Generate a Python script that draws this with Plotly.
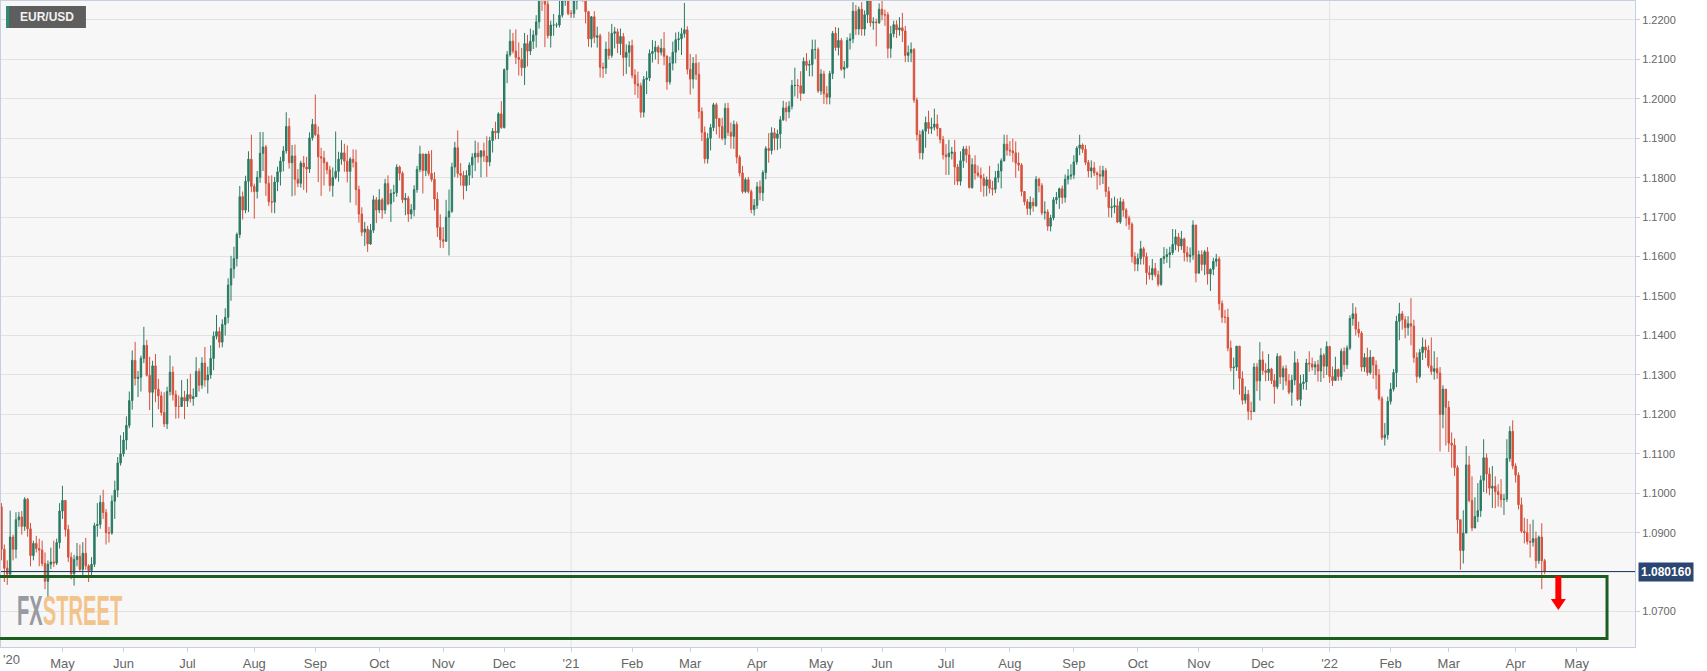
import pandas as pd
import plotly.graph_objects as go

# ---------------- data (EUR/USD daily, values in pips: price * 10000) ----------------
first_day = "2020-04-02"
last_day = "2022-04-15"

opens = [
    10966,10858,10810,10795,10889,10858,10933,10940,10916,10985,10910,10842,10873,10860,10856,10822,10777,10820,10826,10823,10875,
    10955,10982,10908,10838,10796,10832,10840,10807,10848,10816,10804,10820,10918,10921,10977,10951,10900,10899,10980,11008,11077,
    11100,11135,11172,11235,11337,11291,11294,11342,11375,11299,11256,11323,11264,11247,11205,11176,11258,11307,11250,11220,11220,11243,
    11234,11250,11240,11245,11309,11274,11330,11287,11300,11342,11398,11410,11383,11428,11446,11528,11569,11595,11656,11752,11718,11791,11847,
    11778,11765,11801,11862,11878,11786,11739,11738,11789,11815,11842,11868,11930,11838,11855,11796,11786,11837,11827,11822,11901,
    11935,11909,11853,11850,11838,11820,11780,11801,11816,11847,11863,11842,11816,11847,11839,11770,11708,11662,11670,11632,11667,11744,
    11718,11744,11718,11785,11734,11760,11762,11827,11811,11744,11748,11708,11719,11770,11821,11860,11818,11860,11811,11796,11746,11674,
    11643,11639,11700,11715,11827,11876,11811,11806,11780,11806,11832,11852,11862,11853,11868,11855,11840,11894,11918,11914,11962,
    11927,12074,12112,12146,12121,12105,12100,12079,12140,12121,12146,12162,12195,12264,12256,12240,12160,12187,12187,12187,12212,12248,12300,
    12216,12216,12248,12297,12325,12271,12221,12152,12208,12156,12160,12080,12078,12126,12110,12166,12170,12140,12158,12105,12118,
    12135,12060,12038,12033,11966,12049,12053,12115,12120,12131,12118,12128,12108,12043,12090,12118,12150,12152,12165,12175,
    12075,12050,12090,12062,11968,11915,11848,11900,11927,11985,11950,11930,11900,11976,11915,11905,11935,11852,11812,11765,11795,11765,11719,
    11730,11777,11762,11813,11874,11869,11914,11900,11911,11947,11977,11967,11981,12034,12034,12033,12014,12095,12085,12087,12125,12125,
    12020,12063,12013,12004,12064,12166,12130,12148,12075,12080,12148,12152,12222,12177,12227,12177,12213,12250,12193,12195,12193,
    12227,12213,12213,12128,12165,12188,12175,12180,12172,12110,12117,12125,11997,11909,11863,11918,11940,11925,11928,11936,11925,11897,
    11858,11853,11862,11865,11827,11791,11843,11873,11858,11775,11833,11812,11806,11799,11780,11795,11773,11771,11800,11817,11843,11885,
    11870,11868,11863,11837,11832,11765,11739,11722,11738,11729,11796,11780,11711,11713,11677,11698,11744,11750,11772,11750,11796,11804,
    11807,11840,11875,11883,11872,11839,11817,11825,11812,11808,11804,11818,11765,11724,11726,11729,11688,11739,11718,11698,11682,11600,
    11581,11595,11620,11600,11559,11554,11570,11554,11530,11595,11600,11605,11610,11631,11650,11627,11645,11610,11600,11604,11680,
    11558,11605,11580,11612,11556,11568,11588,11594,11481,11446,11446,11368,11318,11320,11373,11291,11236,11251,11208,11207,11320,11285,
    11338,11311,11306,11315,11286,11270,11347,11295,11316,11285,11256,11287,11331,11238,11278,11282,11330,11328,11320,11326,11310,11350,11322,
    11372,11296,11286,11314,11296,11360,11326,11368,11443,11455,11416,11406,11320,11344,11306,11345,11325,11300,11240,11141,11148,
    11233,11264,11306,11436,11455,11440,11420,11430,11424,11344,11296,11357,11371,11363,11323,11309,11316,11305,11200,11264,
    11218,11127,11122,11065,10933,10855,10899,11072,10982,10912,10941,10956,11033,11090,11049,11013,11018,11004,10997,10984,10985,11088,11157,
    11069,11046,10971,10904,10900,10878,10876,10885,10829,10889,10829,
]

highs = [
    10975,10870,10830,10956,10895,10952,10953,10955,10990,10988,10925,10880,10892,10885,10880,10850,10830,10862,10880,10885,10975,
    11019,10983,10920,10850,10844,10874,10870,10876,10887,10820,10838,10925,10975,10995,11009,10960,10915,10995,11032,11092,11147,
    11155,11195,11258,11362,11384,11310,11349,11422,11389,11346,11336,11353,11290,11258,11256,11270,11349,11322,11261,11248,11287,11260,
    11290,11303,11266,11345,11317,11345,11371,11321,11375,11410,11452,11421,11441,11469,11545,11602,11625,11661,11779,11765,11805,11867,11909,
    11785,11817,11916,11916,11883,11805,11806,11802,11828,11853,11880,11966,11951,11883,11884,11822,11843,11855,11853,11915,11949,
    12011,11930,11876,11868,11841,11830,11826,11917,11866,11895,11886,11882,11852,11872,11871,11780,11725,11688,11678,11683,11755,11751,
    11771,11749,11797,11806,11771,11782,11834,11831,11816,11761,11754,11733,11781,11830,11881,11861,11860,11868,11870,11814,11763,11707,
    11675,11744,11770,11838,11891,11920,11837,11817,11819,11839,11862,11894,11890,11870,11889,11905,11904,11926,11942,11966,11994,
    12077,12121,12176,12167,12176,12143,12129,12167,12162,12178,12174,12212,12273,12274,12260,12250,12198,12215,12193,12249,12276,12310,12310,
    12225,12310,12305,12349,12345,12283,12223,12210,12222,12183,12165,12092,12145,12170,12190,12182,12178,12178,12167,12138,12146,
    12150,12075,12069,12041,12058,12070,12125,12149,12147,12136,12152,12169,12110,12107,12145,12168,12170,12180,12243,12184,
    12114,12106,12113,12093,11978,11930,11913,11936,11990,11990,11951,11952,11989,11990,11940,11945,11942,11857,11830,11800,11802,11770,11746,
    11789,11793,11819,11880,11913,11928,11926,11922,11956,11995,11992,11994,12048,12079,12050,12070,12105,12116,12098,12150,12150,12130,
    12075,12071,12032,12071,12172,12182,12180,12154,12096,12156,12166,12245,12238,12234,12245,12224,12266,12263,12207,12203,12242,
    12254,12226,12220,12185,12198,12199,12207,12218,12185,12135,12143,12129,12003,11920,11923,11955,11970,11952,11975,11960,11926,11906,
    11885,11896,11878,11896,11835,11867,11880,11881,11881,11849,11857,11831,11826,11810,11803,11830,11792,11817,11836,11849,11909,11909,
    11893,11899,11892,11864,11837,11765,11746,11753,11749,11804,11800,11786,11740,11720,11706,11751,11764,11775,11780,11808,11822,11834,
    11857,11880,11909,11887,11883,11845,11844,11840,11816,11830,11830,11825,11777,11748,11752,11747,11750,11746,11723,11704,11687,11611,
    11608,11640,11625,11610,11577,11594,11584,11564,11596,11624,11620,11625,11670,11669,11660,11665,11648,11626,11623,11692,11677,
    11615,11616,11617,11624,11570,11597,11607,11600,11489,11465,11468,11387,11344,11373,11374,11309,11271,11262,11232,11330,11330,11383,
    11360,11330,11353,11318,11302,11355,11350,11323,11325,11302,11300,11360,11341,11300,11302,11341,11360,11344,11335,11338,11368,11355,11385,
    11374,11321,11346,11316,11367,11370,11375,11451,11482,11472,11435,11411,11355,11369,11363,11346,11337,11315,11246,11178,11245,
    11280,11315,11450,11483,11462,11449,11449,11495,11440,11357,11366,11395,11390,11375,11395,11360,11345,11320,11274,11240,
    11234,11154,11139,11071,10933,10957,11120,11095,11043,10990,11026,11045,11137,11101,11065,11069,11043,11023,11036,10998,11137,11170,11185,
    11076,11053,10989,10938,10935,10922,10933,10903,10893,10924,10834,
]

lows = [
    10830,10775,10768,10785,10830,10835,10915,10895,10905,10890,10815,10830,10850,10815,10815,10757,10728,10808,10813,10818,10860,
    10935,10890,10826,10782,10766,10815,10803,10785,10806,10775,10785,10813,10890,10910,10935,10870,10875,10895,10935,10990,11070,
    11093,11110,11165,11212,11273,11244,11258,11330,11296,11211,11167,11231,11213,11197,11168,11163,11248,11235,11189,11190,11220,11188,
    11219,11230,11222,11244,11258,11265,11270,11253,11290,11312,11390,11369,11370,11400,11431,11488,11545,11575,11647,11694,11710,11713,11763,
    11696,11747,11787,11817,11754,11728,11711,11710,11766,11780,11816,11861,11823,11753,11755,11776,11775,11769,11762,11812,11894,
    11905,11789,11754,11780,11809,11765,11752,11796,11790,11833,11815,11788,11737,11826,11730,11686,11652,11627,11612,11630,11660,11685,
    11710,11696,11708,11730,11688,11738,11752,11793,11736,11705,11688,11695,11702,11762,11814,11760,11804,11805,11790,11717,11650,11622,
    11622,11637,11603,11711,11802,11800,11780,11745,11766,11781,11799,11817,11838,11801,11840,11802,11829,11864,11897,11898,11924,
    11925,12040,12107,12115,12088,12059,12058,12035,12082,12111,12126,12130,12178,12223,12131,12153,12130,12160,12180,12181,12206,12236,12212,
    12205,12205,12226,12265,12246,12191,12132,12130,12141,12130,12054,12053,12063,12100,12104,12128,12116,12111,12058,12063,12081,
    12052,12010,12002,11952,11953,12012,12045,12092,12100,12088,12110,12085,12023,12036,12072,12090,12123,12111,12155,12062,
    12011,12026,12048,11950,11893,11836,11836,11869,11918,11910,11900,11895,11883,11906,11874,11873,11836,11803,11760,11761,11760,11710,11704,
    11721,11743,11741,11796,11838,11859,11870,11870,11874,11944,11943,11951,11973,12006,12001,11995,12017,12071,12057,12057,12101,12015,
    12010,11987,11986,11986,12050,12122,12110,12071,12052,12077,12125,12141,12162,12162,12160,12160,12192,12183,12175,12133,12190,
    12199,12185,12103,12104,12156,12154,12160,12144,12093,12093,12093,11990,11894,11847,11846,11876,11911,11911,11920,11905,11887,11846,
    11807,11807,11846,11782,11781,11780,11825,11838,11773,11772,11795,11801,11764,11752,11753,11760,11755,11761,11788,11773,11841,11856,
    11855,11840,11800,11817,11753,11730,11706,11705,11714,11726,11763,11705,11694,11665,11664,11692,11733,11721,11734,11737,11783,11795,
    11797,11833,11857,11863,11832,11801,11800,11804,11770,11781,11784,11751,11700,11699,11710,11685,11683,11701,11677,11668,11585,11563,
    11563,11580,11580,11529,11542,11540,11548,11524,11526,11581,11584,11571,11604,11616,11612,11617,11588,11587,11585,11592,11535,
    11569,11564,11553,11529,11513,11553,11575,11464,11432,11431,11360,11309,11263,11310,11250,11225,11227,11186,11185,11206,11259,11235,
    11300,11284,11285,11277,11227,11264,11277,11262,11273,11251,11222,11274,11234,11221,11263,11262,11308,11311,11300,11283,11282,11292,11300,
    11280,11272,11285,11285,11286,11308,11315,11363,11425,11400,11395,11309,11308,11298,11301,11290,11263,11235,11135,11121,11136,
    11225,11258,11269,11388,11415,11393,11400,11375,11331,11280,11291,11338,11343,11317,11300,11288,11290,11106,11165,11121,
    11105,11065,11044,10898,10806,10822,10900,10977,10904,10920,10927,10940,11003,11000,10995,10963,10962,10966,10964,10945,10978,11080,11061,
    11027,10959,10899,10873,10870,10837,10865,10810,10821,10757,10795,
]

closes = [
    10858,10810,10795,10889,10858,10933,10940,10916,10985,10910,10842,10873,10860,10856,10822,10777,10820,10826,10823,10875,10955,
    10982,10908,10838,10796,10832,10840,10807,10848,10816,10804,10820,10918,10921,10977,10951,10900,10899,10980,11008,11077,11100,
    11135,11172,11235,11337,11291,11294,11342,11375,11299,11256,11323,11264,11247,11205,11176,11258,11307,11250,11220,11220,11243,11234,
    11250,11240,11245,11309,11274,11330,11287,11300,11342,11398,11410,11383,11428,11446,11528,11569,11595,11656,11752,11718,11791,11847,11778,
    11765,11801,11862,11878,11786,11739,11738,11789,11815,11842,11868,11930,11838,11855,11796,11786,11837,11827,11822,11901,11935,
    11909,11853,11850,11838,11820,11780,11801,11816,11847,11863,11842,11816,11847,11839,11770,11708,11662,11670,11632,11667,11744,11718,
    11744,11718,11785,11734,11760,11762,11827,11811,11744,11748,11708,11719,11770,11821,11860,11818,11860,11811,11796,11746,11674,11643,
    11639,11700,11715,11827,11876,11811,11806,11780,11806,11832,11852,11862,11853,11868,11855,11840,11894,11918,11914,11962,11927,
    12074,12112,12146,12121,12105,12100,12079,12140,12121,12146,12162,12195,12264,12256,12240,12160,12187,12187,12187,12212,12248,12300,12216,
    12216,12248,12297,12325,12271,12221,12152,12208,12156,12160,12080,12078,12126,12110,12166,12170,12140,12158,12105,12118,12135,
    12060,12038,12033,11966,12049,12053,12115,12120,12131,12118,12128,12108,12043,12090,12118,12150,12152,12165,12175,12075,
    12050,12090,12062,11968,11915,11848,11900,11927,11985,11950,11930,11900,11976,11915,11905,11935,11852,11812,11765,11795,11765,11719,11730,
    11777,11762,11813,11874,11869,11914,11900,11911,11947,11977,11967,11981,12034,12034,12033,12014,12095,12085,12087,12125,12125,12020,
    12063,12013,12004,12064,12166,12130,12148,12075,12080,12148,12152,12222,12177,12227,12177,12213,12250,12193,12195,12193,12227,
    12213,12213,12128,12165,12188,12175,12180,12172,12110,12117,12125,11997,11909,11863,11918,11940,11925,11928,11936,11925,11897,11858,
    11853,11862,11865,11827,11791,11843,11873,11858,11775,11833,11812,11806,11799,11780,11795,11773,11771,11800,11817,11843,11885,11870,
    11868,11863,11837,11832,11765,11739,11722,11738,11729,11796,11780,11711,11713,11677,11698,11744,11750,11772,11750,11796,11804,11807,
    11840,11875,11883,11872,11839,11817,11825,11812,11808,11804,11818,11765,11724,11726,11729,11688,11739,11718,11698,11682,11600,11581,
    11595,11620,11600,11559,11554,11570,11554,11530,11595,11600,11605,11610,11631,11650,11627,11645,11610,11600,11604,11680,11558,
    11605,11580,11612,11556,11568,11588,11594,11481,11446,11446,11368,11318,11320,11373,11291,11236,11251,11208,11207,11320,11285,11338,
    11311,11306,11315,11286,11270,11347,11295,11316,11285,11256,11287,11331,11238,11278,11282,11330,11328,11320,11326,11310,11350,11322,11372,
    11296,11286,11314,11296,11360,11326,11368,11443,11455,11416,11406,11320,11344,11306,11345,11325,11300,11240,11141,11148,11233,
    11264,11306,11436,11455,11440,11420,11430,11424,11344,11296,11357,11371,11363,11323,11309,11316,11305,11200,11264,11218,
    11127,11122,11065,10933,10855,10899,11072,10982,10912,10941,10956,11033,11090,11049,11013,11018,11004,10997,10984,10985,11088,11157,11069,
    11046,10971,10904,10900,10878,10876,10885,10829,10889,10829,10802,
]

last_price = 1.080160
symbol = "EUR/USD"

tick_dates = ["2020-05-01", "2020-06-01", "2020-07-01", "2020-08-03", "2020-09-01", "2020-10-01",
              "2020-11-02", "2020-12-01", "2021-01-01", "2021-02-01", "2021-03-01", "2021-04-01",
              "2021-05-03", "2021-06-01", "2021-07-01", "2021-08-02", "2021-09-01", "2021-10-01",
              "2021-11-01", "2021-12-01", "2022-01-03", "2022-02-01", "2022-03-01", "2022-04-01",
              "2022-05-02"]
tick_labels = ["May", "Jun", "Jul", "Aug", "Sep", "Oct", "Nov", "Dec", "'21", "Feb", "Mar", "Apr",
               "May", "Jun", "Jul", "Aug", "Sep", "Oct", "Nov", "Dec", "'22", "Feb", "Mar", "Apr", "May"]
first_label = "'20"
year_lines = ["2021-01-01", "2022-01-03"]
# 1.0800 label is hidden behind the last-price tag in the reference
y_ticks = [1.07, 1.09, 1.10, 1.11, 1.12, 1.13, 1.14, 1.15, 1.16, 1.17, 1.18, 1.19, 1.20, 1.21, 1.22]
y_grid_extra = [1.08]

# zone box and arrow (price levels)
zone_top = 1.0789
zone_bottom = 1.0632
arrow_date = "2022-04-21 17:00"
arrow_top = 1.0790

# ---------------- build ----------------
dates = pd.bdate_range(first_day, last_day)
n = min(len(dates), len(opens), len(highs), len(lows), len(closes))
o = [v / 10000 for v in opens[:n]]
c = [v / 10000 for v in closes[:n]]
h = [max(hv / 10000, a, b) for hv, a, b in zip(highs[:n], o, c)]
l = [min(lv / 10000, a, b) for lv, a, b in zip(lows[:n], o, c)]

UP = "#2a7a63"
DOWN = "#d6503c"

fig = go.Figure()
fig.add_trace(go.Candlestick(
    x=dates[:n], open=o, high=h, low=l, close=c,
    increasing=dict(line=dict(color=UP, width=1), fillcolor=UP),
    decreasing=dict(line=dict(color=DOWN, width=1), fillcolor=DOWN),
    whiskerwidth=0, hoverinfo="skip", showlegend=False,
))

W, H = 1707, 671
ML, MR, MT, MB = 0, 72, 1, 22
PW, PH = W - ML - MR, H - MT - MB

grid = "#e2e2e2"
axis_line = "#c6cfe0"
tick_font = dict(family="Liberation Sans Narrow, Arial Narrow, Liberation Sans, Arial, sans-serif", size=13, color="#666666")

shapes = []
for d in year_lines:
    shapes.append(dict(type="line", xref="x", yref="paper", x0=d, x1=d, y0=0, y1=1,
                       line=dict(color=grid, width=1), layer="below"))
for v in y_grid_extra:
    shapes.append(dict(type="line", xref="paper", yref="y", x0=0, x1=1, y0=v, y1=v,
                       line=dict(color=grid, width=1), layer="below"))
# last price line
shapes.append(dict(type="line", xref="paper", yref="y", x0=0, x1=1, y0=last_price, y1=last_price,
                   line=dict(color="#1f3a66", width=1), layer="above"))
# green zone rectangle
shapes.append(dict(type="rect", xref="paper", yref="y", x0=-0.003, x1=1607 / PW,
                   y0=zone_bottom, y1=zone_top, line=dict(color="#1b5e20", width=3),
                   fillcolor="rgba(0,0,0,0)", layer="above"))
# red down arrow (pixel sized, anchored at data point)
shapes.append(dict(type="path", xref="x", yref="y", xsizemode="pixel", ysizemode="pixel",
                   xanchor=arrow_date, yanchor=arrow_top,
                   path="M -3 0 L 3 0 L 3 -23 L 7.5 -23 L 0 -34 L -7.5 -23 L -3 -23 Z",
                   fillcolor="#ff0000", line=dict(width=0), layer="above"))
# symbol label box
shapes.append(dict(type="rect", xref="paper", yref="paper", x0=5 / PW, x1=85 / PW,
                   y0=1 - 27 / PH, y1=1 - 5 / PH, fillcolor="#5e5e5e", line=dict(width=0), layer="above"))
shapes.append(dict(type="rect", xref="paper", yref="paper", x0=5 / PW, x1=8 / PW,
                   y0=1 - 27 / PH, y1=1 - 5 / PH, fillcolor="#2e8b74", line=dict(width=0), layer="above"))

annotations = [
    dict(text="<b>" + symbol + "</b>", xref="paper", yref="paper", x=17 / PW, y=1 - 16 / PH,
         xanchor="left", yanchor="middle", showarrow=False,
         font=dict(family="Liberation Sans, Arial, sans-serif", size=12, color="#f2f2f2")),
    dict(text="<b>%.6f</b>" % last_price, xref="paper", yref="y", x=1, y=last_price,
         xanchor="left", yanchor="middle", xshift=3, showarrow=False, bgcolor="#2b4670",
         borderpad=2, font=dict(family="Liberation Sans, Arial, sans-serif", size=12, color="#ffffff")),
    dict(text=first_label, xref="paper", yref="paper", x=0, y=0, xanchor="left", yanchor="top",
         yshift=-3, showarrow=False, font=tick_font),
    dict(text='<b><span style="color:#9a9aa3">FX</span><span style="color:#f2c48c">STREET</span></b>',
         xref="paper", yref="paper", x=14 / PW, y=(PH - 612 + MT) / PH, xanchor="left", yanchor="middle",
         showarrow=False, font=dict(family="Liberation Sans, Arial, sans-serif", size=42)),
]

fig.update_layout(
    width=W, height=H,
    margin=dict(l=ML, r=MR, t=MT, b=MB, pad=0),
    paper_bgcolor="#ffffff", plot_bgcolor="#f7f7f7",
    showlegend=False, hovermode=False,
    boxgap=0.3,
    shapes=shapes, annotations=annotations,
    xaxis=dict(
        type="date", range=["2020-04-01 20:24", "2022-05-30 02:00"],
        rangebreaks=[dict(bounds=["sat", "mon"])],
        rangeslider=dict(visible=False),
        tickmode="array", tickvals=tick_dates, ticktext=tick_labels,
        ticks="outside", ticklen=4, tickcolor=axis_line,
        showgrid=False, zeroline=False,
        showline=True, linecolor=axis_line, linewidth=1, mirror=True,
        tickfont=tick_font,
    ),
    yaxis=dict(
        side="right", range=[1.06103, 1.22480],
        tickmode="array", tickvals=y_ticks, ticktext=["%.4f" % v for v in y_ticks],
        ticks="outside", ticklen=4, tickcolor=axis_line,
        showgrid=True, gridcolor=grid, gridwidth=1, zeroline=False,
        showline=True, linecolor=axis_line, linewidth=1, mirror=True,
        tickfont=dict(family="Liberation Sans, Arial, sans-serif", size=11, color="#666666"),
    ),
)

post = """
document.body.style.margin='0';
document.body.style.overflow='hidden';
var gd = document.getElementById('{plot_id}');
function squeeze(){
  gd.querySelectorAll('.annotation-text').forEach(function(t){
    if (t.textContent.indexOf('STREET') >= 0) {
      t.style.transformBox = 'fill-box';
      t.style.transformOrigin = '0% 50%';
      t.style.transform = 'scale(0.48, 1)';
    }
  });
}
squeeze();
gd.on('plotly_afterplot', squeeze);
"""

fig.write_html("out.html", post_script=post, config={"displayModeBar": False})
